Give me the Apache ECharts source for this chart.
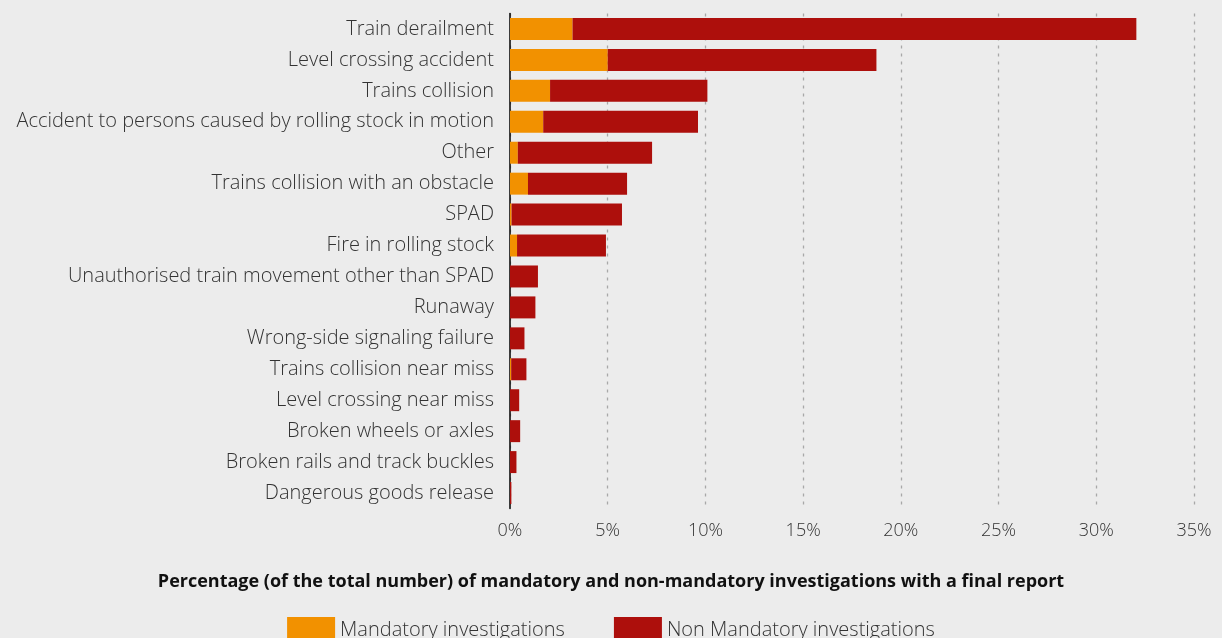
<!DOCTYPE html>
<html>
<head>
<meta charset="utf-8">
<script src="https://cdn.jsdelivr.net/npm/echarts@6/dist/echarts.min.js"></script>
<style>
  html, body { margin: 0; padding: 0; background: #ececec; }
  #chart { width: 1222px; height: 638px; }
</style>
</head>
<body>
<div id="chart"></div>
<script>
// Occurrence categories, top to bottom
const categories = [
  'Train derailment',
  'Level crossing accident',
  'Trains collision',
  'Accident to persons caused by rolling stock in motion',
  'Other',
  'Trains collision with an obstacle',
  'SPAD',
  'Fire in rolling stock',
  'Unauthorised train movement other than SPAD',
  'Runaway',
  'Wrong-side signaling failure',
  'Trains collision near miss',
  'Level crossing near miss',
  'Broken wheels or axles',
  'Broken rails and track buckles',
  'Dangerous goods release'
];

// Share of investigations with a final report (%)
const mandatory = [3.2, 5.0, 2.05, 1.7, 0.4, 0.92, 0.08, 0.36, 0, 0, 0, 0.06, 0, 0, 0, 0];
const nonMandatory = [28.85, 13.75, 8.05, 7.92, 6.87, 5.07, 5.65, 4.55, 1.43, 1.3, 0.74, 0.78, 0.47, 0.52, 0.33, 0.07];

const xTicks = { min: 0, max: 35, step: 5 };

const textFont = '"Open Sans", "Noto Sans", sans-serif';

const chart = echarts.init(document.getElementById('chart'));
chart.setOption({
  backgroundColor: '#ececec',
  animation: false,
  textStyle: { fontFamily: textFont },
  title: {
    text: 'Percentage (of the total number) of mandatory and non-mandatory investigations with a final report',
    left: 'center',
    top: 568,
    textStyle: { fontSize: 18, fontWeight: 'bold', color: '#111', fontFamily: textFont }
  },
  legend: {
    top: 612,
    left: 'center',
    itemWidth: 48,
    itemHeight: 26,
    itemGap: 49,
    icon: 'rect',
    textStyle: { fontSize: 20, color: '#333', fontWeight: 300, fontFamily: textFont },
    data: ['Mandatory investigations', 'Non Mandatory investigations']
  },
  grid: { left: 510, right: 28, top: 13.5, bottom: 129.5, containLabel: false },
  xAxis: {
    type: 'value',
    min: xTicks.min,
    max: xTicks.max,
    interval: xTicks.step,
    axisLine: { show: false },
    axisTick: { show: false },
    axisLabel: { formatter: '{value}%', fontSize: 18, color: '#333', fontWeight: 300, margin: 13 },
    splitLine: { show: true, lineStyle: { color: '#a8a8a8', width: 1.3, type: [3, 5] } }
  },
  yAxis: {
    type: 'category',
    inverse: true,
    data: categories,
    axisLine: { show: true, lineStyle: { color: '#000', width: 1.5 } },
    axisTick: { show: false },
    axisLabel: { fontSize: 20, color: '#333', fontWeight: 300, margin: 16 }
  },
  series: [
    {
      name: 'Mandatory investigations',
      type: 'bar',
      stack: 'total',
      barCategoryGap: '29%',
      itemStyle: { color: '#f29100' },
      data: mandatory
    },
    {
      name: 'Non Mandatory investigations',
      type: 'bar',
      stack: 'total',
      barCategoryGap: '29%',
      itemStyle: { color: '#ad0f0c' },
      data: nonMandatory
    }
  ]
});
</script>
</body>
</html>
